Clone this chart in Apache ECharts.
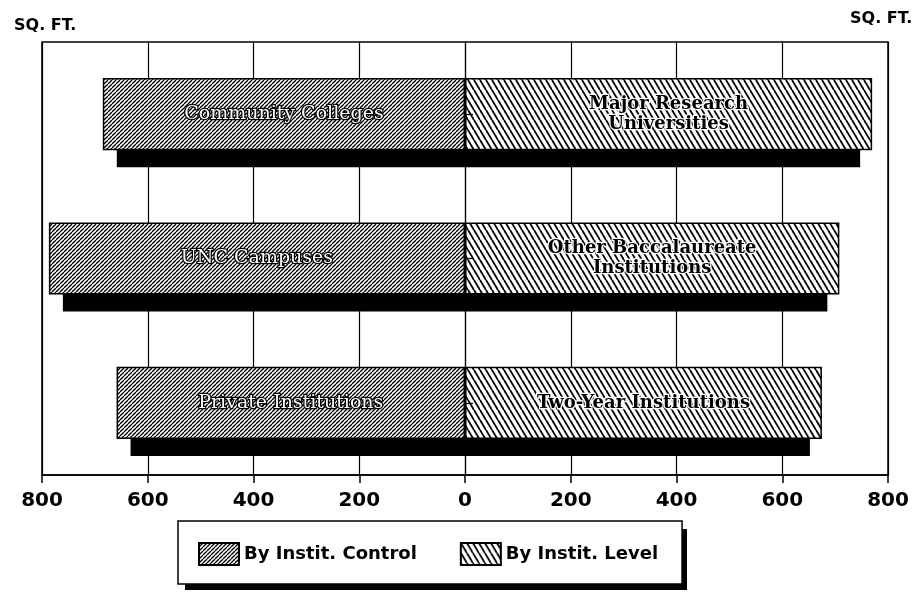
<!DOCTYPE html>
<html>
<head>
<meta charset="utf-8">
<script src="https://cdn.jsdelivr.net/npm/echarts@6/dist/echarts.min.js"></script>
<style>
  html, body { margin: 0; padding: 0; background: #fff; }
  #chart { width: 919px; height: 592px; }
</style>
</head>
<body>
<div id="chart"></div>
<script>
// rows, top to bottom
const rows = ["row1", "row2", "row3"];
const controlNames = ["Community Colleges", "UNC Campuses", "Private Institutions"];
const controlValues = [685, 787, 659];
const levelNames = ["Major Research\nUniversities", "Other Baccalaureate\nInstitutions", "Two-Year Institutions"];
const levelValues = [770, 708, 675];

// hatch fills
function makeHatch(w, h, lw, back) {
  const c = document.createElement("canvas");
  c.width = w;
  c.height = h;
  const ctx = c.getContext("2d");
  ctx.fillStyle = "#fff";
  ctx.fillRect(0, 0, w, h);
  ctx.strokeStyle = "#000";
  ctx.lineWidth = lw;
  for (let k = -1; k <= 1; k++) {
    ctx.beginPath();
    if (back) {
      ctx.moveTo(k * w, 0);
      ctx.lineTo(k * w + w, h);
    } else {
      ctx.moveTo(k * w, h);
      ctx.lineTo(k * w + w, 0);
    }
    ctx.stroke();
  }
  return c;
}
const controlFill = { image: makeHatch(4, 4, 1.3, false), repeat: "repeat" };
const levelFill = { image: makeHatch(6, 10, 1.8, true), repeat: "repeat" };

const chart = echarts.init(document.getElementById("chart"));

const shadowData = rows.map((r, i) => [r, -controlValues[i], levelValues[i]]);

const option = {
  animation: false,
  backgroundColor: "#fff",
  textStyle: { fontFamily: "DejaVu Sans" },
  title: [
    { text: "SQ. FT.", left: 9, top: 13, textStyle: { fontSize: 16, fontWeight: "bold", color: "#000" } },
    { text: "SQ. FT.", left: 845, top: 6, textStyle: { fontSize: 16, fontWeight: "bold", color: "#000" } }
  ],
  // drop shadow behind the legend box
  graphic: [
    { type: "rect", left: 185, top: 529, z: 0, shape: { width: 502, height: 61 }, style: { fill: "#000" } }
  ],
  grid: {
    left: 42, right: 31, top: 42, bottom: 117,
    show: true, borderColor: "#000", borderWidth: 1.5
  },
  legend: {
    data: ["By Instit. Control", "By Instit. Level"],
    left: 178, top: 521,
    icon: "rect",
    itemWidth: 40, itemHeight: 22, itemGap: 43,
    padding: [21, 24, 18, 20],
    backgroundColor: "#fff",
    borderColor: "#000", borderWidth: 1.5,
    textStyle: { fontSize: 18, fontWeight: "bold", color: "#000", fontFamily: "DejaVu Sans" }
  },
  xAxis: {
    type: "value",
    min: -800, max: 800, interval: 200,
    axisLine: { show: true, lineStyle: { color: "#000", width: 1.5 } },
    axisTick: { show: true, length: 8, lineStyle: { color: "#000", width: 1.5 } },
    splitLine: { show: true, lineStyle: { color: "#000", width: 1.2 } },
    axisLabel: {
      margin: 16, fontSize: 20, fontWeight: "bold", color: "#000", fontFamily: "DejaVu Sans",
      formatter: v => String(Math.abs(v))
    }
  },
  yAxis: {
    type: "category",
    data: rows,
    inverse: true,
    z: 10,
    axisLine: { show: true, onZero: true, lineStyle: { color: "#000", width: 1.2 } },
    axisTick: { show: true, inside: true, alignWithLabel: true, length: 8, lineStyle: { color: "#000", width: 1.2 } },
    axisLabel: { show: false },
    splitLine: { show: false }
  },
  series: [
    {
      type: "custom",
      silent: true,
      z: 1,
      encode: { x: [1, 2], y: 0 },
      data: shadowData,
      renderItem: (params, api) => {
        const p1 = api.coord([api.value(1), api.value(0)]);
        const p2 = api.coord([api.value(2), api.value(0)]);
        const h = api.size([0, 1])[1] * 0.5;
        return {
          type: "rect",
          shape: { x: p1[0] + 14, y: p1[1] - h / 2 + 17, width: (p2[0] - 12) - (p1[0] + 14), height: h },
          style: { fill: "#000" }
        };
      }
    },
    {
      name: "By Instit. Control",
      type: "bar",
      stack: "all",
      barWidth: "50%",
      z: 3,
      data: controlValues.map(v => -v),
      itemStyle: { color: controlFill, borderColor: "#000", borderWidth: 1.5 },
      label: {
        show: true, position: "inside",
        formatter: p => controlNames[p.dataIndex],
        color: "#fff", fontSize: 19, fontFamily: "DejaVu Serif",
        textBorderColor: "#000", textBorderWidth: 2.5
      }
    },
    {
      name: "By Instit. Level",
      type: "bar",
      stack: "all",
      barWidth: "50%",
      z: 3,
      data: levelValues,
      itemStyle: { color: levelFill, borderColor: "#000", borderWidth: 1.5 },
      label: {
        show: true, position: "inside",
        formatter: p => levelNames[p.dataIndex],
        color: "#000", fontSize: 18, fontWeight: "bold", fontFamily: "DejaVu Serif",
        lineHeight: 20,
        textBorderColor: "#fff", textBorderWidth: 2.5
      }
    }
  ]
};

chart.setOption(option);
window.addEventListener("resize", () => chart.resize());
</script>
</body>
</html>
